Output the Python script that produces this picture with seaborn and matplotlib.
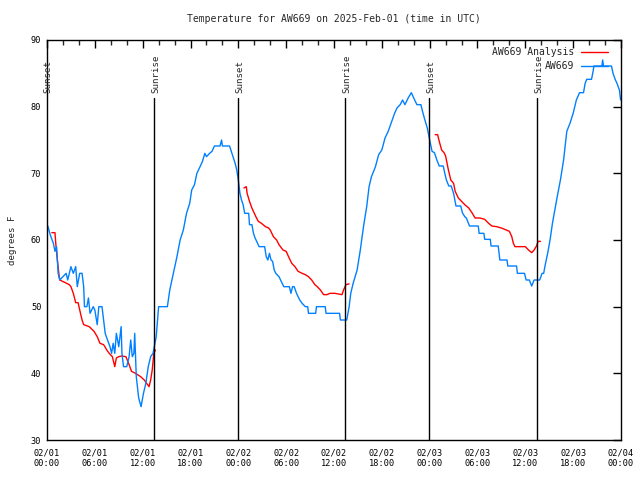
import matplotlib
matplotlib.use("Agg")
import matplotlib.pyplot as plt
import seaborn as sns
import pandas as pd
import numpy as np
from matplotlib.lines import Line2D

# ---- data (hours since 2025-02-01 00:00 UTC, temperature in F) ----
obs_hours = [0.1, 0.4, 0.8, 1.0, 1.2, 1.4, 1.6, 2.4, 2.6, 3.0, 3.3, 3.6, 3.8, 4.1, 4.4, 4.6, 4.7,
             5.0, 5.2, 5.4, 5.8, 6.0, 6.2, 6.3, 6.5, 6.9, 7.1, 7.3, 7.5, 7.9, 8.1, 8.3, 8.5, 8.7,
             9.0, 9.3, 9.4, 9.6, 10.0, 10.3, 10.5, 10.7, 10.9, 11.0, 11.2, 11.5, 11.8, 12.1, 12.4,
             12.7, 13.0, 13.3, 13.7, 14.0, 14.3, 14.6, 15.1, 15.4, 15.85, 16.3, 16.7, 17.1, 17.5,
             17.9, 18.15, 18.5, 18.8, 19.2, 19.5, 19.8, 20.0, 20.4, 20.7, 21.0, 21.7, 21.9, 22.0,
             22.9, 23.2, 23.6, 23.8, 24.0, 24.2, 24.4, 24.6, 24.8, 25.3, 25.4, 25.7, 25.9, 26.1,
             26.3, 26.6, 27.3, 27.5, 27.7, 27.9, 28.1, 28.3, 28.5, 28.7, 29.1, 29.3, 29.7, 30.4,
             30.6, 30.8, 31.0, 31.3, 31.7, 32.0, 32.4, 32.7, 32.8, 33.7, 33.8, 34.9, 35.0, 36.7,
             36.8, 37.6, 37.9, 38.1, 38.4, 38.9, 39.3, 39.7, 40.1, 40.4, 40.7, 41.2, 41.6, 42.0,
             42.4, 42.8, 43.3, 43.6, 43.9, 44.3, 44.6, 44.9, 45.3, 45.7, 46.0, 46.4, 46.9, 47.1,
             47.4, 47.7, 48.0, 48.3, 48.6, 48.9, 49.2, 49.7, 49.9, 50.1, 50.4, 50.7, 51.0, 51.3,
             51.9, 52.1, 52.4, 52.6, 53.0, 54.1, 54.2, 54.8, 54.9, 55.6, 55.7, 56.6, 56.8, 57.7,
             57.8, 58.9, 59.0, 59.9, 60.1, 60.5, 60.8, 61.1, 61.8, 62.1, 62.3, 62.5, 62.8, 63.1,
             63.4, 63.7, 64.0, 64.4, 64.8, 65.2, 65.6, 66.0, 66.4, 66.8, 67.3, 67.5, 67.7, 68.3,
             68.5, 68.6, 69.6, 69.7, 69.8, 70.8, 71.0, 71.3, 71.5, 71.8, 71.95]
obs_temp = [62.1, 60.8, 59.5, 58.3, 59.0, 55.0, 54.0, 55.0, 54.0, 56.0, 55.0, 56.0, 53.0, 55.0, 55.0, 53.0, 50.0,
            50.0, 51.3, 49.0, 50.0, 49.5, 48.0, 47.3, 50.0, 50.0, 48.0, 46.0, 45.3, 44.0, 43.0, 44.5, 43.0, 46.0,
            44.0, 47.0, 43.0, 41.0, 41.0, 42.5, 45.0, 42.5, 43.0, 46.0, 39.5, 36.3, 35.0, 37.0, 38.5,
            41.0, 42.5, 43.0, 45.5, 50.0, 50.0, 50.0, 50.0, 52.5, 55.0, 57.5, 60.0, 61.5, 64.0,
            65.5, 67.5, 68.3, 70.0, 71.0, 71.8, 73.0, 72.5, 73.0, 73.3, 74.1, 74.1, 75.0, 74.1,
            74.1, 73.0, 71.5, 70.5, 69.0, 67.0, 66.0, 65.3, 64.0, 64.0, 62.3, 62.3, 61.0, 60.3,
            59.8, 59.0, 59.0, 57.5, 57.0, 58.0, 57.0, 56.8, 55.5, 55.0, 54.5, 54.0, 53.0, 53.0,
            52.0, 53.0, 53.0, 52.0, 51.0, 50.5, 50.0, 50.0, 49.0, 49.0, 50.0, 50.0, 49.0, 49.0,
            48.0, 48.0, 50.0, 52.0, 53.5, 55.5, 58.5, 62.0, 65.0, 68.0, 69.5, 71.0, 72.8, 73.5,
            75.3, 76.3, 78.0, 79.0, 79.8, 80.3, 81.0, 80.3, 81.3, 82.1, 81.3, 80.3, 80.3, 79.3,
            78.0, 76.8, 75.0, 73.3, 73.1, 72.0, 71.1, 71.1, 70.0, 69.0, 68.1, 68.1, 67.0, 65.1,
            65.1, 64.1, 63.5, 63.3, 62.1, 62.1, 61.0, 61.0, 60.1, 60.1, 59.1, 59.1, 57.0, 57.0,
            56.1, 56.1, 55.0, 55.0, 54.0, 54.0, 53.1, 54.0, 54.0, 55.0, 55.0, 56.3, 58.0, 60.0,
            62.5, 64.5, 66.5, 69.0, 72.0, 76.3, 77.5, 79.0, 81.0, 82.1, 82.1, 83.5, 84.1, 84.1,
            85.3, 86.1, 86.1, 87.0, 86.1, 86.1, 85.0, 84.0, 83.5, 82.5, 81.0]

ana_hours = [0.6, 1.0, 1.1, 1.3, 1.5, 1.6, 2.3, 2.8, 3.0, 3.3, 3.6, 3.9, 4.2, 4.4, 4.6, 5.3, 5.9,
             6.3, 6.65, 7.1, 7.5, 7.8, 8.2, 8.5, 8.7, 9.0, 9.4, 9.9, 10.3, 10.6, 11.1, 11.75,
             12.2, 12.5, 12.8, 13.0, 13.2, 13.4, 13.6,
             24.7, 25.0, 25.1, 25.4, 25.7, 26.2, 26.5, 26.9, 27.4, 27.8, 28.0, 28.4, 28.8, 29.1,
             29.6, 30.0, 30.3, 30.7, 31.1, 31.5, 32.0, 32.4, 32.8, 33.2, 33.6, 33.9, 34.3, 34.7,
             35.1, 35.5, 36.1, 37.0, 37.2, 37.5, 37.8, 37.9,
             48.7, 49.0, 49.2, 49.5, 49.8, 50.0, 50.35, 50.65, 51.0, 51.2, 51.6, 52.0, 52.4, 52.9,
             53.3, 53.7, 54.3, 54.9, 55.4, 55.8, 56.4, 57.0, 57.6, 58.0, 58.3, 58.5, 58.7, 59.3,
             60.0, 60.4, 60.8, 61.1, 61.4, 61.6, 61.9]
ana_temp = [61.1, 61.1, 59.5, 57.0, 54.8, 54.0, 53.6, 53.3, 53.0, 52.0, 50.6, 50.6, 49.0, 48.0, 47.3, 47.0, 46.3,
            45.5, 44.5, 44.3, 43.5, 43.0, 42.5, 41.0, 42.3, 42.5, 42.6, 42.5, 41.3, 40.3, 40.0, 39.5,
            39.0, 38.5, 38.0, 39.0, 40.5, 43.0, 43.5,
            67.8, 68.0, 67.0, 65.8, 64.8, 63.5, 62.8, 62.5, 62.0, 61.8, 61.5, 60.5, 60.0, 59.3,
            58.5, 58.3, 57.5, 56.5, 56.0, 55.3, 55.0, 54.8, 54.5, 54.0, 53.3, 53.0, 52.5, 51.8,
            51.8, 52.0, 52.0, 51.8, 52.5, 53.3, 53.4, 53.4,
            75.8, 75.8, 74.8, 73.5, 73.1, 72.6, 70.5, 69.0, 68.5, 67.3, 66.3, 65.8, 65.3, 64.8,
            64.1, 63.3, 63.3, 63.1, 62.5, 62.1, 62.0, 61.8, 61.5, 61.3, 60.5, 59.5, 59.0, 59.0,
            59.0, 58.5, 58.1, 58.5, 59.1, 59.8, 59.8]
ana_segment = [1] * 39 + [2] * 36 + [3] * 35

sun_hours = [0.0, 13.47, 24.0, 37.43, 47.97, 61.52]
sun_labels = ["Sunset", "Sunrise", "Sunset", "Sunrise", "Sunset", "Sunrise"]

xtick_hours = list(range(0, 73, 6))
xtick_labels = ["02/01\n00:00", "02/01\n06:00", "02/01\n12:00", "02/01\n18:00",
                "02/02\n00:00", "02/02\n06:00", "02/02\n12:00", "02/02\n18:00",
                "02/03\n00:00", "02/03\n06:00", "02/03\n12:00", "02/03\n18:00",
                "02/04\n00:00"]
ytick_values = [30, 40, 50, 60, 70, 80, 90]

title = "Temperature for AW669 on 2025-Feb-01 (time in UTC)"
series_labels = ["AW669 Analysis", "AW669"]

# ---- build frames ----
obs = pd.DataFrame({"hour": obs_hours, "temp": obs_temp})
ana = pd.DataFrame({"hour": ana_hours, "temp": ana_temp, "seg": ana_segment})

sns.set_style("white")
plt.rcParams["font.family"] = ["DejaVu Sans Mono"]

fig = plt.figure(figsize=(6.4, 4.8), dpi=100)
ax = fig.add_axes([47 / 640, 1 - 440 / 480, (621 - 47) / 640, 400 / 480])

sns.lineplot(data=ana, x="hour", y="temp", units="seg", estimator=None, sort=False,
             color="#ff0000", linewidth=1.0, ax=ax, legend=False)
sns.lineplot(data=obs, x="hour", y="temp", estimator=None, sort=False,
             color="#0080ff", linewidth=1.0, ax=ax, legend=False)

for h, lab in zip(sun_hours, sun_labels):
    if h > 0:
        ax.plot([h, h], [30, 81.3], color="black", linewidth=1.0)
    ax.text(h + 0.15, 82.0, lab, rotation=90, ha="center", va="bottom",
            fontsize=6.6, clip_on=False)

ax.set_xlim(0, 72)
ax.set_ylim(30, 90)
ax.set_xticks(xtick_hours)
ax.set_xticklabels(xtick_labels)
ax.set_xticks(np.arange(0, 73, 2), minor=True)
ax.set_yticks(ytick_values)
ax.set_yticklabels([str(v) for v in ytick_values])
ax.tick_params(axis="both", which="major", direction="in", length=6, width=1,
               top=True, right=True, labelsize=6.2, colors="black", pad=4)
ax.tick_params(axis="both", which="minor", direction="in", length=3.5, width=1,
               top=True, right=True)
ax.tick_params(axis="x", which="major", pad=6)
for s in ax.spines.values():
    s.set_color("black")
    s.set_linewidth(1.0)

ax.set_xlabel("")
ax.set_ylabel("degrees F", fontsize=6.6, labelpad=10)
fig.text(334 / 640, 1 - 19 / 480, title, ha="center", va="center", fontsize=7)

handles = [Line2D([], [], color="#ff0000", linewidth=1.0),
           Line2D([], [], color="#0080ff", linewidth=1.0)]
ax.legend(handles, series_labels, loc="upper right", bbox_to_anchor=(0.988, 0.997),
          frameon=False, markerfirst=False, fontsize=7, handlelength=2.8,
          labelspacing=0.4, borderaxespad=0.2, handletextpad=0.7)

fig.savefig("out.png", dpi=100)
